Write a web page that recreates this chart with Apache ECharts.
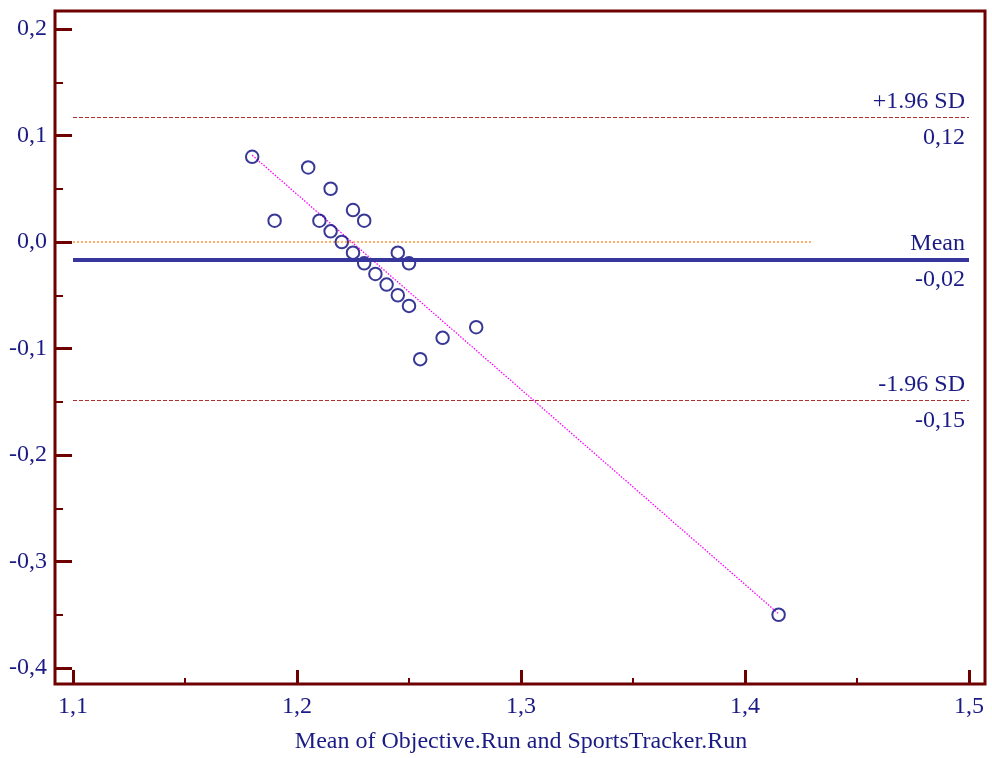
<!DOCTYPE html>
<html>
<head>
<meta charset="utf-8">
<script src="https://cdn.jsdelivr.net/npm/echarts@6/dist/echarts.min.js"></script>
<style>
  html, body { margin: 0; padding: 0; background: #ffffff; }
  #chart { width: 992px; height: 758px; }
</style>
</head>
<body>
<div id="chart"></div>
<script>
// Bland-Altman plot: difference vs mean of the two running measurements
const meanValues = [1.18, 1.19, 1.205, 1.21, 1.215, 1.215, 1.22, 1.225, 1.225, 1.23, 1.23,
                    1.235, 1.24, 1.245, 1.245, 1.25, 1.25, 1.255, 1.265, 1.28, 1.415];
const diffValues = [0.08, 0.02, 0.07, 0.02, 0.05, 0.01, 0.00, 0.03, -0.01, 0.02, -0.02,
                    -0.03, -0.04, -0.01, -0.05, -0.02, -0.06, -0.11, -0.09, -0.08, -0.35];

// agreement limits
const meanDiff = -0.0162;
const upperLimit = 0.1167;
const lowerLimit = -0.149;

// reference line of zero difference
const zeroLineStart = 1.1;
const zeroLineEnd = 1.43;

const xTicks = { min: 1.1, max: 1.5, interval: 0.1 };
const yTicks = { min: -0.4, max: 0.2, interval: 0.1 };

const TEXT = '#1b1b85';
const FRAME = '#6e0000';
const FONT = '"Liberation Serif", "Times New Roman", serif';
const FONT_SIZE = 24;

const comma = v => v.toFixed(1).replace('.', ',');
const comma2 = v => v.toFixed(2).replace('.', ',');

// least-squares regression of difference on mean
function regressionLine(xs, ys) {
  const n = xs.length;
  const mx = xs.reduce((a, b) => a + b, 0) / n;
  const my = ys.reduce((a, b) => a + b, 0) / n;
  let sxy = 0, sxx = 0;
  for (let i = 0; i < n; i++) {
    sxy += (xs[i] - mx) * (ys[i] - my);
    sxx += (xs[i] - mx) * (xs[i] - mx);
  }
  const b = sxy / sxx;
  const a = my - b * mx;
  const x0 = Math.min(...xs), x1 = Math.max(...xs);
  return [[x0, a + b * x0], [x1, a + b * x1]];
}

const grid = { left: 73, right: 23, top: 29, bottom: 90 };
const yOffset = 18, xOffset = 16;

const chart = echarts.init(document.getElementById('chart'), null, { renderer: 'canvas' });

// a limit line with its name above and its value below, at the right end
function limitLine(value, name, color, width, type) {
  return [
    {
      yAxis: value,
      lineStyle: { color: color, width: width, type: type },
      label: { show: true, position: 'insideEndTop', formatter: name, distance: [4, 4] }
    },
    {
      yAxis: value,
      lineStyle: { color: 'rgba(0,0,0,0)', width: 1 },
      label: { show: true, position: 'insideEndBottom', formatter: comma2(value), distance: [4, 8] }
    }
  ];
}

chart.setOption({
  animation: false,
  backgroundColor: '#ffffff',
  textStyle: { fontFamily: FONT },
  grid: Object.assign({ containLabel: false, outerBoundsMode: 'none' }, grid),
  xAxis: {
    type: 'value',
    min: xTicks.min, max: xTicks.max, interval: xTicks.interval,
    offset: xOffset,
    name: 'Mean of Objective.Run and SportsTracker.Run',
    nameLocation: 'middle',
    nameGap: 46,
    nameTextStyle: { color: TEXT, fontSize: FONT_SIZE, fontFamily: FONT },
    axisLine: { show: false, onZero: false },
    axisTick: { show: true, inside: true, length: 14, lineStyle: { color: FRAME, width: 3 } },
    minorTick: { show: true, splitNumber: 2, length: 6, lineStyle: { color: FRAME, width: 2 } },
    axisLabel: { color: TEXT, fontSize: FONT_SIZE, fontFamily: FONT, margin: 11, formatter: comma },
    splitLine: { show: false }
  },
  yAxis: {
    type: 'value',
    min: yTicks.min, max: yTicks.max, interval: yTicks.interval,
    offset: yOffset,
    axisLine: { show: false, onZero: false },
    axisTick: { show: true, inside: true, length: 17, lineStyle: { color: FRAME, width: 3 } },
    minorTick: { show: true, splitNumber: 2, length: 8, lineStyle: { color: FRAME, width: 2 } },
    axisLabel: { color: TEXT, fontSize: FONT_SIZE, fontFamily: FONT, margin: 8, formatter: comma },
    splitLine: { show: false }
  },
  graphic: [{
    type: 'rect',
    shape: {
      x: grid.left - yOffset,
      y: grid.top - yOffset,
      width: (992 - grid.right + xOffset) - (grid.left - yOffset),
      height: (758 - grid.bottom + xOffset) - (grid.top - yOffset)
    },
    style: { fill: 'none', stroke: FRAME, lineWidth: 3 },
    z: 100
  }],
  series: [
    {
      type: 'line',
      data: [[zeroLineStart, 0], [zeroLineEnd, 0]],
      showSymbol: false,
      lineStyle: { color: '#ff7a00', width: 1.2, type: [2, 2] },
      z: 1
    },
    {
      type: 'line',
      data: [],
      markLine: {
        symbol: 'none',
        silent: true,
        animation: false,
        precision: 6,
        label: { color: TEXT, fontSize: FONT_SIZE, fontFamily: FONT },
        data: [
          ...limitLine(upperLimit, '+1.96 SD', '#b03030', 1.2, [4, 2]),
          ...limitLine(meanDiff, 'Mean', '#36369c', 4, 'solid'),
          ...limitLine(lowerLimit, '-1.96 SD', '#b03030', 1.2, [4, 2])
        ]
      },
      z: 2
    },
    {
      type: 'line',
      data: regressionLine(meanValues, diffValues),
      showSymbol: false,
      lineStyle: { color: '#ff00ff', width: 1.3, type: [1.5, 1.5] },
      z: 3
    },
    {
      type: 'scatter',
      data: meanValues.map((x, i) => [x, diffValues[i]]),
      symbol: 'circle',
      symbolSize: 12.5,
      itemStyle: { color: 'rgba(0,0,0,0)', borderColor: '#06067c', borderWidth: 2 },
      z: 4
    }
  ]
});
</script>
</body>
</html>
